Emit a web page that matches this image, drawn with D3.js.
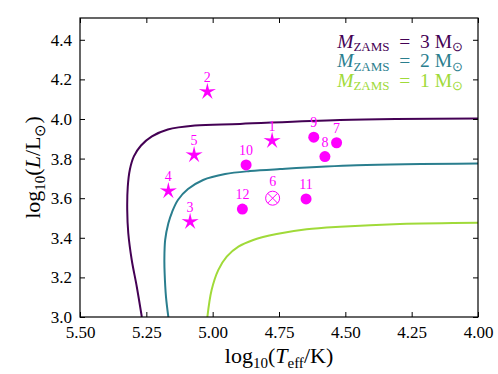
<!DOCTYPE html>
<html><head><meta charset="utf-8">
<script src="https://cdn.jsdelivr.net/npm/d3@7"></script>
<style>
html,body{margin:0;padding:0;background:#fff;}
</style></head>
<body><svg id="c" width="498" height="374"></svg>
<script>
// ---- data ----
const xTicks = [5.5, 5.25, 5.0, 4.75, 4.5, 4.25, 4.0];
const yTicks = [3.0, 3.2, 3.4, 3.6, 3.8, 4.0, 4.2, 4.4];

const starIds = [1, 2, 3, 4, 5];
const starT   = [4.776, 5.020, 5.085, 5.167, 5.070];
const starL   = [3.890, 4.138, 3.481, 3.636, 3.818];

const dotIds = [7, 8, 9, 10, 11, 12];
const dotT   = [4.533, 4.577, 4.619, 4.874, 4.648, 4.888];
const dotL   = [3.880, 3.810, 3.908, 3.768, 3.596, 3.545];

const crossIds = [6];
const crossT = [4.774];
const crossL = [3.600];

const trackMasses = [3, 2, 1];
const trackColors = ["#440154", "#2a7e8e", "#a0da39"];
const track3T = [5.267, 5.286, 5.305, 5.318, 5.322, 5.320, 5.312, 5.297, 5.270, 5.229, 5.169, 5.067, 4.897, 4.520, 4.0];
const track3L = [3.0, 3.153, 3.288, 3.423, 3.540, 3.658, 3.745, 3.811, 3.866, 3.912, 3.947, 3.967, 3.975, 3.995, 4.002];
const track2T = [5.167, 5.176, 5.181, 5.182, 5.179, 5.167, 5.153, 5.131, 5.093, 5.036, 4.953, 4.859, 4.746, 4.457, 4.0];
const track2L = [3.0, 3.103, 3.221, 3.288, 3.389, 3.473, 3.530, 3.591, 3.646, 3.692, 3.722, 3.737, 3.747, 3.766, 3.775];
const track1T = [5.020, 5.004, 4.979, 4.947, 4.903, 4.847, 4.759, 4.646, 4.520, 4.294, 4.0];
const track1L = [3.0, 3.136, 3.237, 3.305, 3.355, 3.389, 3.419, 3.443, 3.456, 3.470, 3.476];

// ---- chart ----
const FONT = "'Liberation Serif','Times New Roman',serif";
const svg = d3.select("#c");
const L = 80, R = 478, T = 18, B = 317;
const x = d3.scaleLinear().domain([5.5, 4.0]).range([L, R]);
const y = d3.scaleLinear().domain([3.0, 4.51]).range([B, T]);
const magenta = "#ff00ff";

svg.append("defs").append("clipPath").attr("id", "clip")
  .append("rect").attr("x", L).attr("y", T).attr("width", R - L).attr("height", B - T);

const tracks = [[track3T, track3L], [track2T, track2L], [track1T, track1L]];
const line = d3.line().x(d => x(d[0])).y(d => y(d[1])).curve(d3.curveCatmullRom.alpha(0.5));
const gTracks = svg.append("g").attr("clip-path", "url(#clip)");
tracks.forEach((tr, i) => {
  const pts = tr[0].map((t, j) => [t, tr[1][j]]);
  gTracks.append("path").attr("d", line(pts)).attr("fill", "none")
    .attr("stroke", trackColors[i]).attr("stroke-width", 2);
});

function starPath(ro, ri) {
  let p = [];
  for (let k = 0; k < 10; k++) {
    const r = k % 2 === 0 ? ro : ri;
    const a = -Math.PI / 2 + k * Math.PI / 5;
    p.push([r * Math.cos(a), r * Math.sin(a)]);
  }
  return "M" + p.map(q => q[0].toFixed(2) + "," + q[1].toFixed(2)).join("L") + "Z";
}
const sp = starPath(9, 2.8);
const gm = svg.append("g");
starIds.forEach((id, i) => {
  gm.append("path").attr("d", sp).attr("fill", magenta)
    .attr("transform", `translate(${x(starT[i])},${y(starL[i])})`);
});
dotIds.forEach((id, i) => {
  gm.append("circle").attr("cx", x(dotT[i])).attr("cy", y(dotL[i])).attr("r", 5.5).attr("fill", magenta);
});
crossIds.forEach((id, i) => {
  const cx = x(crossT[i]), cy = y(crossL[i]), r = 7, d = r * 0.707;
  gm.append("circle").attr("cx", cx).attr("cy", cy).attr("r", r).attr("fill", "none")
    .attr("stroke", magenta).attr("stroke-width", 1);
  gm.append("path").attr("d", `M${cx-d},${cy-d}L${cx+d},${cy+d}M${cx-d},${cy+d}L${cx+d},${cy-d}`)
    .attr("stroke", magenta).attr("stroke-width", 1);
});
const labels = [];
starIds.forEach((id, i) => labels.push([id, starT[i], starL[i]]));
dotIds.forEach((id, i) => labels.push([id, dotT[i], dotL[i]]));
crossIds.forEach((id, i) => labels.push([id, crossT[i], crossL[i] + 0.012]));
labels.forEach(l => {
  gm.append("text").attr("x", x(l[1])).attr("y", y(l[2]) - 10)
    .attr("text-anchor", "middle").attr("font-family", FONT).attr("font-size", 14)
    .attr("fill", magenta).text(l[0]);
});

// axes frame + ticks (inward, all sides)
const fmtX = d3.format(".2f"), fmtY = d3.format(".1f");
const ax = svg.append("g");
const xb = d3.axisBottom(x).tickValues(xTicks).tickSizeInner(-5).tickSizeOuter(0).tickPadding(9).tickFormat(fmtX);
const xt = d3.axisTop(x).tickValues(xTicks).tickSizeInner(-5).tickSizeOuter(0).tickFormat("");
const yl = d3.axisLeft(y).tickValues(yTicks).tickSizeInner(-5).tickSizeOuter(0).tickPadding(8).tickFormat(fmtY);
const yr = d3.axisRight(y).tickValues(yTicks).tickSizeInner(-5).tickSizeOuter(0).tickFormat("");
ax.append("g").attr("transform", `translate(0,${B})`).call(xb);
ax.append("g").attr("transform", `translate(0,${T})`).call(xt);
ax.append("g").attr("transform", `translate(${L},0)`).call(yl);
ax.append("g").attr("transform", `translate(${R},0)`).call(yr);
ax.selectAll(".domain").remove();
ax.selectAll(".tick line").attr("stroke", "#000").attr("stroke-width", 1);
ax.selectAll(".tick text").attr("font-family", FONT).attr("font-size", 17).attr("fill", "#000");
svg.append("rect").attr("x", L).attr("y", T).attr("width", R - L).attr("height", B - T)
  .attr("fill", "none").attr("stroke", "#000").attr("stroke-width", 1.2);

// axis labels
const xlab = svg.append("text").attr("x", (L + R) / 2).attr("y", 363).attr("text-anchor", "middle")
  .attr("font-family", FONT).attr("font-size", 22);
xlab.append("tspan").text("log");
xlab.append("tspan").attr("font-size", 15).attr("dy", 5).text("10");
xlab.append("tspan").attr("dy", -5).text("(");
xlab.append("tspan").attr("font-style", "italic").text("T");
xlab.append("tspan").attr("font-size", 15).attr("dy", 5).text("eff");
xlab.append("tspan").attr("dy", -5).text("/K)");

const ylab = svg.append("text").attr("transform", `translate(40,${(T + B) / 2}) rotate(-90)`)
  .attr("text-anchor", "middle").attr("font-family", FONT).attr("font-size", 22);
ylab.append("tspan").text("log");
ylab.append("tspan").attr("font-size", 15).attr("dy", 5).text("10");
ylab.append("tspan").attr("dy", -5).text("(");
ylab.append("tspan").attr("font-style", "italic").text("L");
ylab.append("tspan").text("/L");
ylab.append("tspan").attr("font-size", 15).attr("dy", 5).text("⊙");
ylab.append("tspan").attr("dy", -5).text(")");

// legend
trackMasses.forEach((m, i) => {
  const t = svg.append("text").attr("x", 463).attr("y", 47.5 + i * 19.7)
    .attr("text-anchor", "end").attr("font-family", FONT).attr("font-size", 19.5).attr("fill", trackColors[i]);
  t.append("tspan").attr("font-style", "italic").text("M");
  t.append("tspan").attr("font-size", 13).attr("dy", 3.5).text("ZAMS");
  t.append("tspan").attr("dy", -3.5).text("\u2002=\u2002" + m + " M");
  t.append("tspan").attr("font-size", 13).attr("dy", 3.5).text("⊙");
});
</script></body></html>
